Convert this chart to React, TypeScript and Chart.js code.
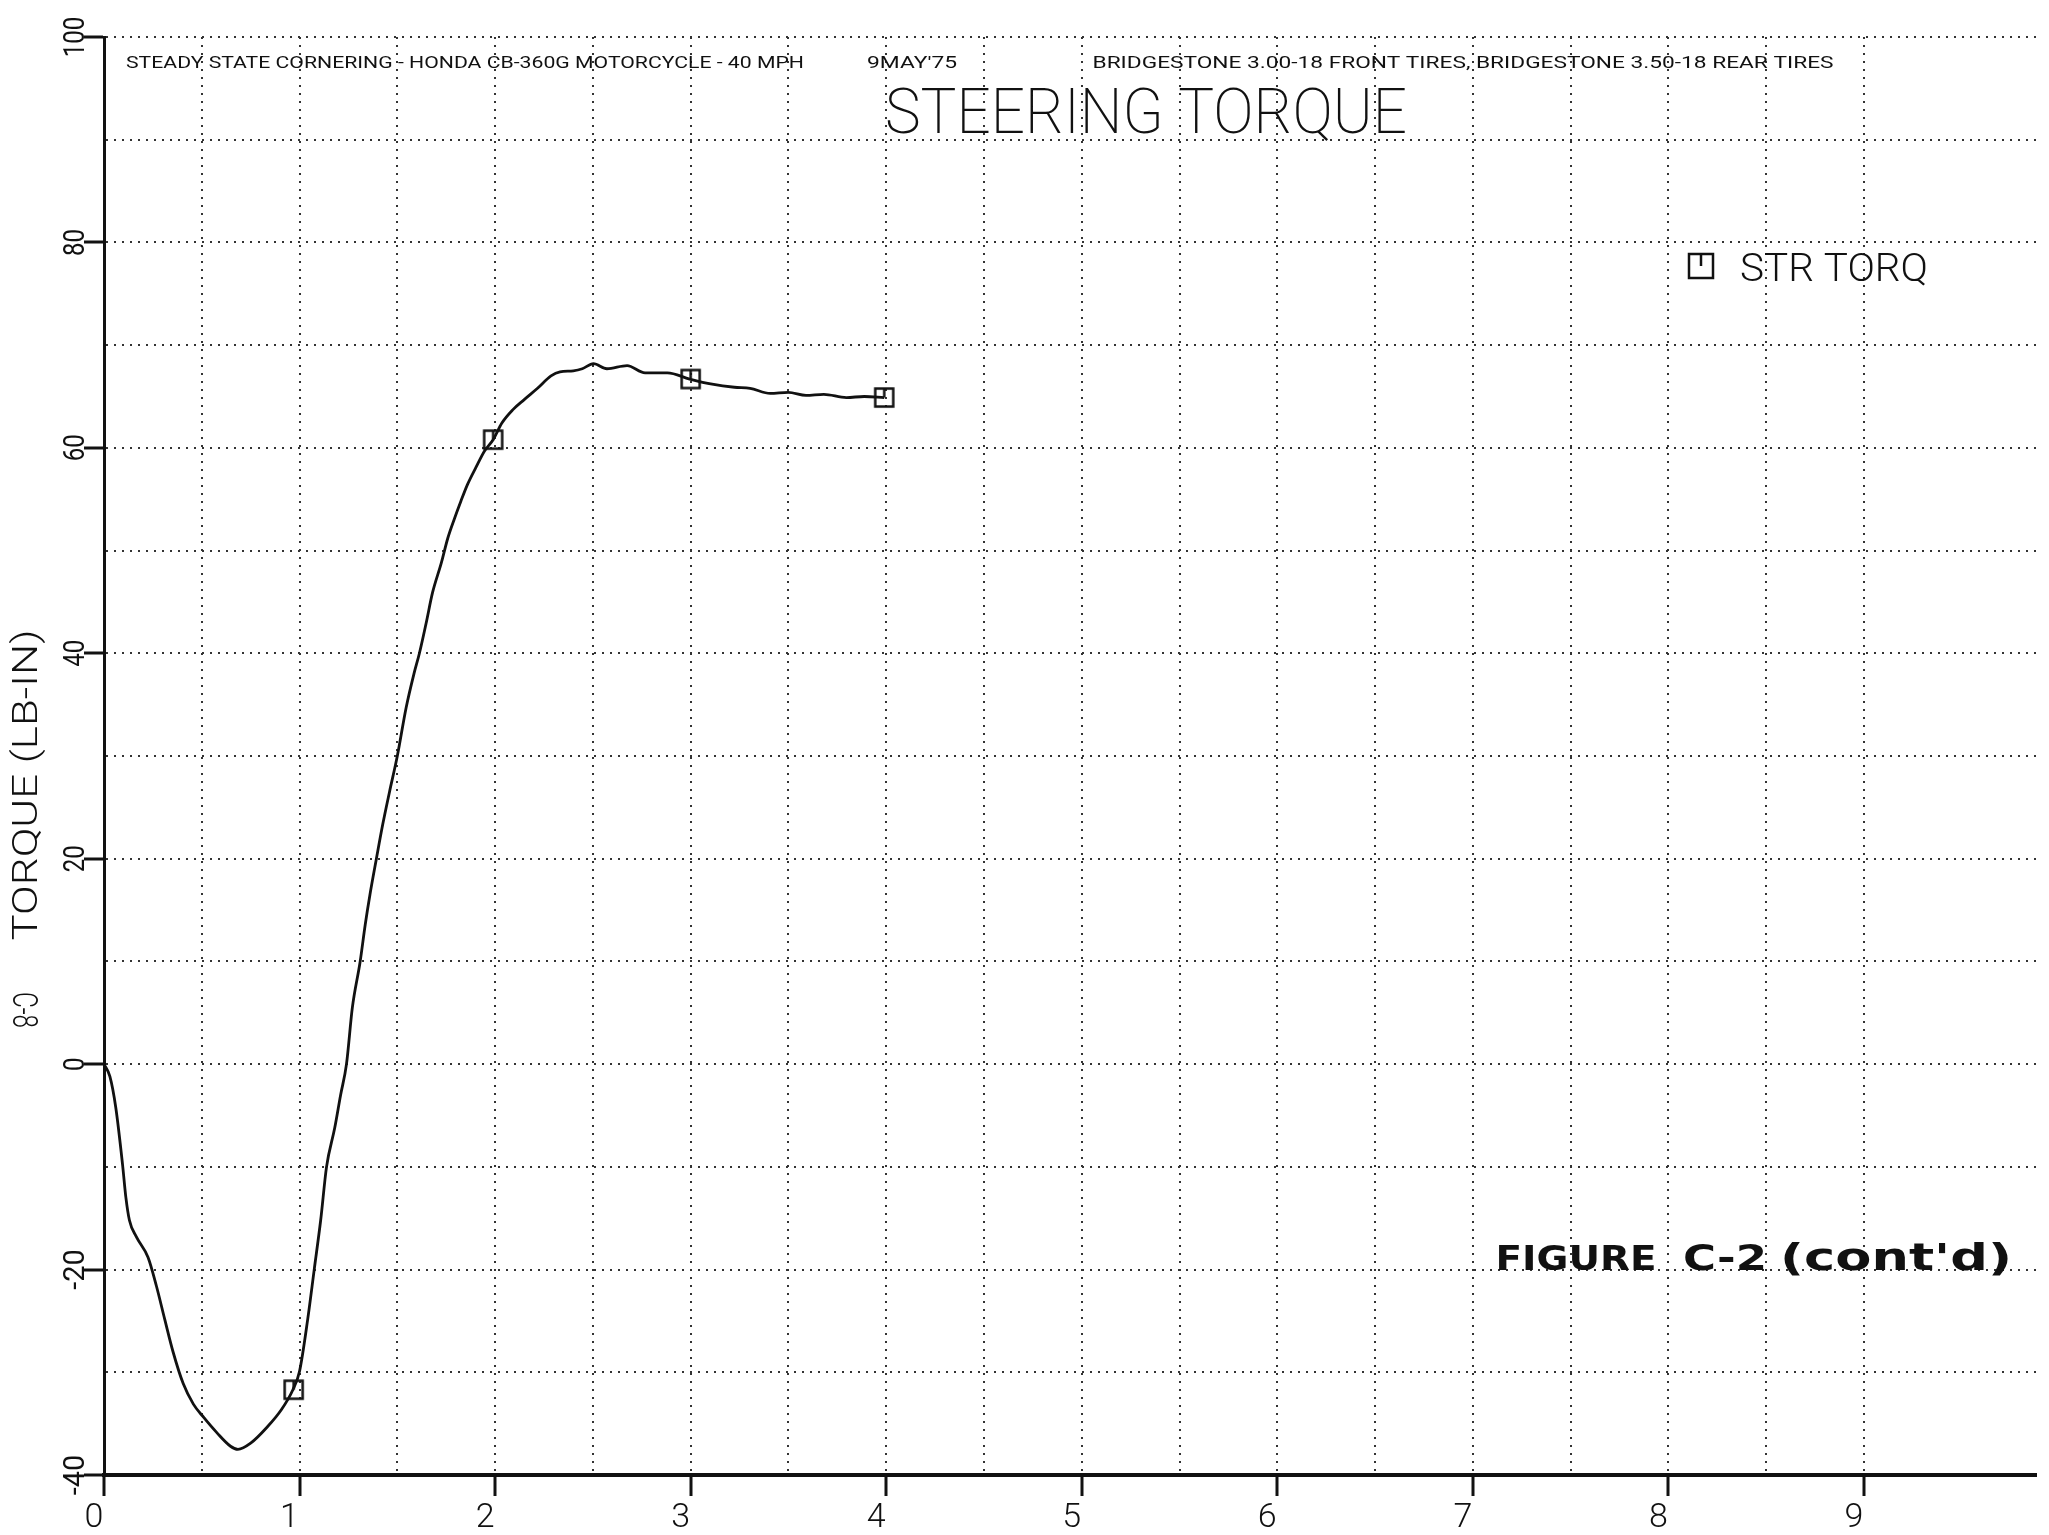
import React, { useEffect, useRef } from 'react';
import { Chart, registerables } from 'chart.js';

Chart.register(...registerables);

// ---- data ----
const curveX = [0, 0.03, 0.06, 0.095, 0.112, 0.13, 0.165, 0.225, 0.268, 0.31, 0.353, 0.405, 0.457, 0.51, 0.578, 0.647, 0.685, 0.75, 0.836, 0.905, 0.966, 1.0, 1.042, 1.075, 1.108, 1.138, 1.18, 1.21, 1.24, 1.27, 1.31, 1.336, 1.36, 1.393, 1.425, 1.46, 1.5, 1.545, 1.585, 1.613, 1.647, 1.68, 1.725, 1.758, 1.792, 1.825, 1.858, 1.902, 1.946, 1.99, 2.034, 2.09, 2.149, 2.217, 2.286, 2.332, 2.4, 2.446, 2.503, 2.572, 2.675, 2.767, 2.881, 2.995, 3.11, 3.224, 3.304, 3.407, 3.499, 3.59, 3.681, 3.796, 3.888, 3.99];
const curveY = [0, -1.2, -4.2, -9.8, -13.0, -15.2, -16.8, -18.8, -21.6, -24.8, -28.0, -31.1, -33.1, -34.4, -35.9, -37.2, -37.5, -36.9, -35.3, -33.7, -31.7, -29.9, -24.8, -20.0, -15.2, -10.0, -6.2, -3.0, 0, 5.5, 10.0, 13.6, 16.5, 20.0, 23.3, 26.5, 30.0, 34.7, 38.0, 40.0, 42.9, 45.9, 48.8, 51.2, 53.1, 54.8, 56.4, 58.1, 59.7, 60.8, 62.4, 63.7, 64.7, 65.8, 67.0, 67.4, 67.5, 67.7, 68.2, 67.7, 68.0, 67.3, 67.3, 66.7, 66.2, 65.9, 65.8, 65.3, 65.4, 65.1, 65.2, 64.9, 65.0, 64.9];
const markerX = [0.97, 1.99, 3.0, 3.99];
const markerY = [-31.7, 60.8, 66.7, 64.9];

const xTickLabels = ['0', '1', '2', '3', '4', '5', '6', '7', '8', '9'];
const yTickLabels = [100, 80, 60, 40, 20, 0, -20, -40];

const seriesLabel = 'STR TORQ';
const titleText = 'STEERING TORQUE';
const subtitleLeft = 'STEADY STATE CORNERING - HONDA CB-360G MOTORCYCLE - 40 MPH';
const dateText = "9MAY'75";
const subtitleRight = 'BRIDGESTONE 3.00-18 FRONT TIRES, BRIDGESTONE 3.50-18 REAR TIRES';
const yAxisTitle = 'TORQUE (LB-IN)';
const pageNumber = 'C-8';
const figureWord = 'FIGURE';
const figureNum = 'C-2';
const figureCont = "(cont'd)";

const W = 2049;
const H = 1535;
const INK = '#111';

function drawFitted(
  ctx: CanvasRenderingContext2D,
  text: string,
  cx: number,
  cy: number,
  width: number,
  font: string,
  size: number,
  rotation = 0,
  capRatio = 0.711
) {
  ctx.save();
  ctx.font = font;
  const w = ctx.measureText(text).width || 1;
  ctx.translate(cx, cy);
  ctx.rotate(rotation);
  ctx.scale(width / w, 1);
  ctx.fillStyle = INK;
  ctx.textAlign = 'center';
  ctx.textBaseline = 'alphabetic';
  ctx.fillText(text, 0, (size * capRatio) / 2);
  ctx.restore();
}

function makeSymbol(side: number, lw: number) {
  const c = document.createElement('canvas');
  const s = Math.ceil(side + lw + 2);
  c.width = s;
  c.height = s;
  const g = c.getContext('2d')!;
  const o = (s - side) / 2;
  g.strokeStyle = INK;
  g.lineWidth = lw;
  g.strokeRect(o, o, side, side);
  g.beginPath();
  g.moveTo(s / 2, o);
  g.lineTo(s / 2, s / 2);
  g.stroke();
  return c;
}

export default function App() {
  const ref = useRef<HTMLCanvasElement>(null);

  useEffect(() => {
    const canvas = ref.current;
    if (!canvas) return;

    const symbol = makeSymbol(18, 2.5);

    const textPlugin = {
      id: 'plotText',
      beforeDraw(chart: any) {
        const c = chart.ctx;
        c.save();
        c.fillStyle = '#fff';
        c.fillRect(0, 0, chart.width, chart.height);
        c.restore();
      },
      afterDraw(chart: any) {
        const ctx = chart.ctx as CanvasRenderingContext2D;
        const ys = chart.scales.y;

        // header lines
        drawFitted(ctx, subtitleLeft, 465, 62, 678, '400 17px Roboto', 17);
        drawFitted(ctx, dateText, 912, 62, 90, '400 17px Roboto', 17);
        drawFitted(ctx, subtitleRight, 1463, 62, 741, '400 17px Roboto', 17);
        drawFitted(ctx, titleText, 1146, 111, 522, '200 63px Roboto', 63);

        // legend
        ctx.save();
        ctx.strokeStyle = INK;
        ctx.lineWidth = 2.5;
        ctx.strokeRect(1689, 254, 24, 24);
        ctx.beginPath();
        ctx.moveTo(1701, 254);
        ctx.lineTo(1701, 266);
        ctx.stroke();
        ctx.restore();
        drawFitted(ctx, chart.data.datasets[0].label, 1834, 267, 188, '300 39px Roboto', 39);

        // y tick labels (rotated)
        yTickLabels.forEach((v) => {
          const t = String(v);
          drawFitted(ctx, t, 73, ys.getPixelForValue(v), t.length * 13.5, '400 30px Roboto', 30, -Math.PI / 2);
        });

        // y axis title & page number
        drawFitted(ctx, yAxisTitle, 25, 785, 311, '300 35px Roboto', 35, -Math.PI / 2);
        drawFitted(ctx, pageNumber, 25, 1010, 36, '300 35px Roboto', 35, Math.PI / 2);

        // handwritten note
        const hw = 'bold 34px "DejaVu Sans"';
        drawFitted(ctx, figureWord, 1576, 1258, 161, hw, 32, 0, 0.73);
        drawFitted(ctx, figureNum, 1725, 1257, 84, 'bold 36px "DejaVu Sans"', 36, 0, 0.73);
        drawFitted(ctx, figureCont, 1896, 1257, 232, 'bold 38px "DejaVu Sans"', 36, 0, 0.73);
      },
    };

    const chart = new Chart(canvas, {
      type: 'line',
      data: {
        datasets: [
          {
            label: seriesLabel,
            data: curveX.map((x, i) => ({ x, y: curveY[i] })),
            borderColor: INK,
            borderWidth: 2.8,
            pointRadius: 0,
            cubicInterpolationMode: 'monotone',
            fill: false,
          },
          {
            label: seriesLabel + ' markers',
            data: markerX.map((x, i) => ({ x, y: markerY[i] })),
            showLine: false,
            pointStyle: symbol as any,
            pointRadius: 12,
            borderColor: INK,
            backgroundColor: 'rgba(0,0,0,0)',
          },
        ],
      },
      options: {
        responsive: false,
        animation: false,
        devicePixelRatio: 1,
        layout: { padding: { left: 0, right: 9, top: 37, bottom: 0 } },
        plugins: {
          legend: { display: false },
          tooltip: { enabled: false },
          title: { display: false },
        },
        scales: {
          x: {
            type: 'linear',
            position: 'bottom',
            min: 0,
            max: 9.88,
            afterBuildTicks: (axis: any) => {
              axis.ticks = axis.ticks.filter(
                (t: any) => Math.abs(t.value * 2 - Math.round(t.value * 2)) < 1e-9
              );
            },
            afterFit: (axis: any) => {
              axis.height = 60;
            },
            ticks: {
              stepSize: 0.5,
              autoSkip: false,
              maxRotation: 0,
              minRotation: 0,
              padding: 2,
              labelOffset: -10,
              color: INK,
              font: { family: 'Roboto', size: 34, weight: '300' },
              callback: (v: any) =>
                Number.isInteger(v) && v >= 0 && v < xTickLabels.length ? xTickLabels[v] : '',
            },
            grid: {
              color: '#333',
              lineWidth: 2,
              drawTicks: true,
              tickLength: 21,
              tickWidth: 3,
              tickColor: (c: any) =>
                c.tick && Number.isInteger(c.tick.value) ? INK : 'rgba(0,0,0,0)',
            },
            border: { display: true, color: INK, width: 4, dash: [2, 6] },
          },
          y: {
            type: 'linear',
            min: -40,
            max: 100,
            afterFit: (axis: any) => {
              axis.width = 104;
            },
            ticks: { stepSize: 10, display: false },
            grid: {
              color: '#333',
              lineWidth: 2,
              drawTicks: true,
              tickLength: 20,
              tickWidth: 3,
              tickColor: (c: any) =>
                c.tick && Math.round(c.tick.value) % 20 === 0 ? INK : 'rgba(0,0,0,0)',
            },
            border: { display: true, color: INK, width: 3, dash: [2, 6] },
          },
        },
      },
      plugins: [textPlugin],
    } as any);

    return () => chart.destroy();
  }, []);

  return (
    <div style={{ position: 'absolute', left: 0, top: 0, width: W, height: H, background: '#fff' }}>
      <canvas ref={ref} width={W} height={H} style={{ display: 'block', width: W, height: H }} />
    </div>
  );
}
